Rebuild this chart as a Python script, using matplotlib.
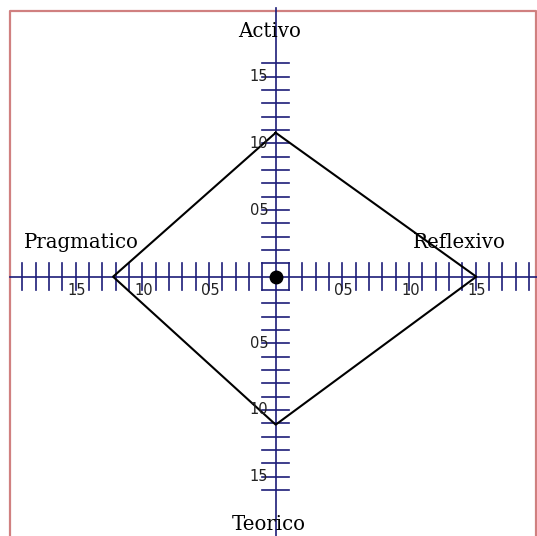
import matplotlib
matplotlib.use("Agg")
import matplotlib.pyplot as plt
import numpy as np

# Kolb learning styles: scores on each of the four axes
estilos = ["Activo", "Reflexivo", "Teorico", "Pragmatico"]
puntajes = [10.8, 15.05, 11.1, 12.2]
tick_labels = ["05", "10", "15"]
tick_vals = [5, 10, 15]

azul = "#1c1c78"
px = 13.33  # pixels per unit

fig = plt.figure(figsize=(5.37, 5.36), dpi=100)
ax = fig.add_axes([0, 0, 1, 1])
ax.set_xlim(-275.7 / px, (537 - 275.7) / px)
ax.set_ylim(-(536 - 276.7) / px, 276.7 / px)
ax.axis("off")

# red frame
left = (9.7 - 275.7) / px
top = (276.7 - 11) / px
right = (536.3 - 275.7) / px
bottom = -(540 - 276.7) / px
ax.plot([left, left, right, right], [bottom, top, top, bottom], color="#d08080", lw=1.6, clip_on=False)

# axes
ax.plot([left, right + 1], [0, 0], color=azul, lw=1.2)
ax.plot([0, 0], [(276.7 - 8) / px, bottom], color=azul, lw=1.2)

# ticks
for k in range(1, 20):
    for s in (-1, 1):
        ax.plot([s * k, s * k], [-1, 1], color=azul, lw=1.2)
for k in range(1, 17):
    for s in (-1, 1):
        ax.plot([-1, 1], [s * k, s * k], color=azul, lw=1.2)

# tick labels
for v, t in zip(tick_vals, tick_labels):
    for s in (-1, 1):
        ax.text(s * v + 0.1, -0.45, t, ha="center", va="top", fontsize=10.5, color="#222222")
        ax.text(-0.55, s * v, t, ha="right", va="center", fontsize=10.5, color="#222222")

# polygon
xs = [0, puntajes[1], 0, -puntajes[3], 0]
ys = [puntajes[0], 0, -puntajes[2], 0, puntajes[0]]
ax.plot(xs, ys, color="black", lw=1.5)
ax.plot([0], [0], "o", color="black", markersize=9)

# style names
serif = dict(family="DejaVu Serif", fontsize=14.2, color="black", va="baseline", ha="center")
ax.text(-0.45, 18.0, estilos[0], **serif)
ax.text(13.75, 2.15, estilos[1], **serif)
ax.text(-0.5, -18.97, estilos[2], **serif)
ax.text(-14.57, 2.15, estilos[3], **serif)

fig.savefig("out.png", dpi=100, facecolor="white")
plt.close()
